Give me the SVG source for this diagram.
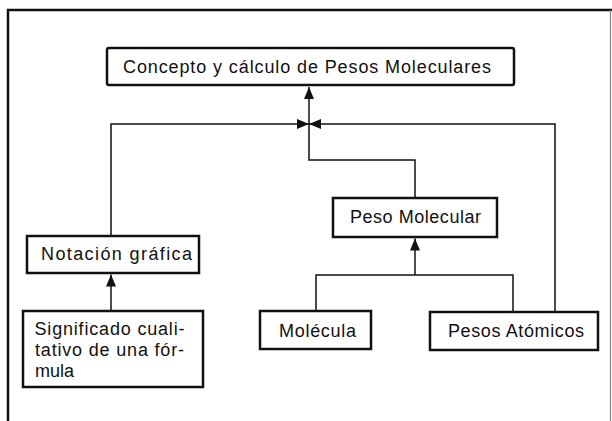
<svg xmlns="http://www.w3.org/2000/svg" width="612" height="421" viewBox="0 0 612 421">
<style>
.box{fill:#fff;stroke:#111;stroke-width:2.5}
.t{font-family:"Liberation Sans",Arial,sans-serif;font-size:18px;fill:#111}
.c{fill:none;stroke:#111;stroke-width:1.5}
.frame{fill:none;stroke:#111;stroke-width:2.5}
</style>
<defs>
<marker id="ah" markerUnits="userSpaceOnUse" markerWidth="13" markerHeight="11" refX="12" refY="5" orient="auto">
<path d="M0,0 L12,5 L0,10 z" fill="#111"/>
</marker>
</defs>
<rect width="612" height="421" fill="#fff"/>
<path class="frame" d="M8,421 V10 H612"/>
<path d="M610.5,10 V421" fill="none" stroke="#888" stroke-width="1.2"/>
<g id="connectors">
<path class="c" d="M309,124 V87" marker-end="url(#ah)"/>
<path class="c" d="M111,236 V124 H309" marker-end="url(#ah)"/>
<path class="c" d="M555,311 V124 H309" marker-end="url(#ah)"/>
<path class="c" d="M415,198 V160 H309 V124"/>
<path class="c" d="M111,311 V274.5" marker-end="url(#ah)"/>
<path class="c" d="M316,311 V275 H513 V311"/>
<path class="c" d="M415,275 V238.5" marker-end="url(#ah)"/>
</g>
<g id="title">
<rect class="box" x="107" y="48" width="407" height="37" rx="2"/>
<text class="t" x="123" y="73" textLength="368" lengthAdjust="spacing">Concepto y cálculo de Pesos Moleculares</text>
</g>
<g id="notacion">
<rect class="box" x="27" y="236" width="172" height="37"/>
<text class="t" x="41" y="259.5" textLength="151" lengthAdjust="spacing">Notación gráfica</text>
</g>
<g id="peso-molecular">
<rect class="box" x="333" y="198" width="164" height="39"/>
<text class="t" x="350" y="222.5" textLength="131" lengthAdjust="spacing">Peso Molecular</text>
</g>
<g id="significado">
<rect class="box" x="23" y="311" width="180" height="76"/>
<text class="t" x="34.5" y="335" textLength="150" lengthAdjust="spacing">Significado cuali-</text>
<text class="t" x="35" y="356" textLength="149" lengthAdjust="spacing">tativo de una fór-</text>
<text class="t" x="35" y="377" textLength="39" lengthAdjust="spacing">mula</text>
</g>
<g id="molecula">
<rect class="box" x="260" y="311" width="111" height="38"/>
<text class="t" x="279" y="337" textLength="77" lengthAdjust="spacing">Molécula</text>
</g>
<g id="pesos-atomicos">
<rect class="box" x="430" y="312" width="168" height="38"/>
<text class="t" x="448" y="337" textLength="136" lengthAdjust="spacing">Pesos Atómicos</text>
</g>
</svg>
